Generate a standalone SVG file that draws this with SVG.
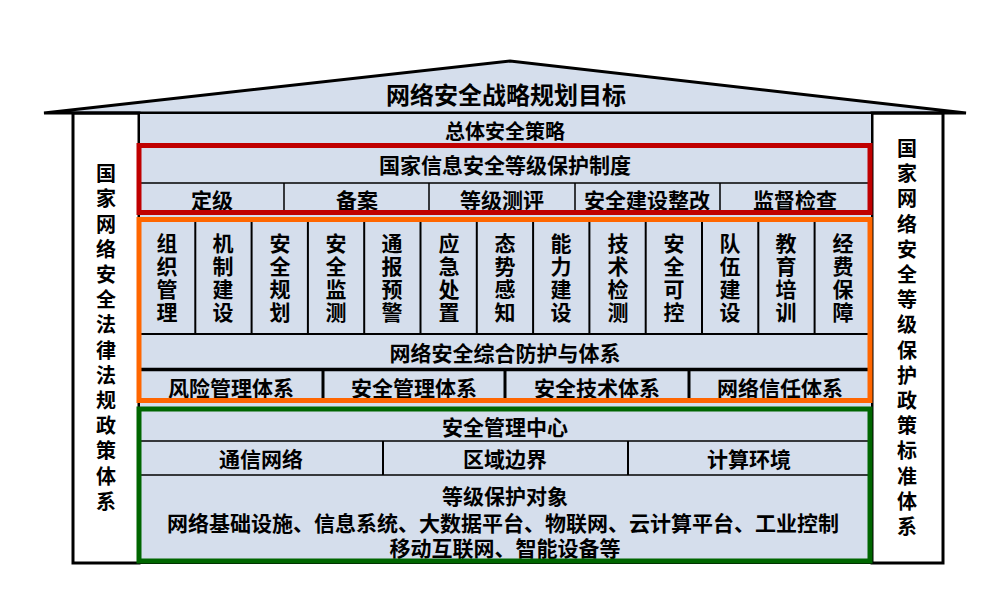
<svg xmlns="http://www.w3.org/2000/svg" width="1004" height="596" viewBox="0 0 1004 596">
<style>
text{font-family:"Noto Sans CJK SC","Noto Sans",sans-serif;font-weight:bold;fill:#000;text-anchor:middle;dominant-baseline:central}
.t20{font-size:20px}
.t21{font-size:21px}
.vp{font-size:20px;writing-mode:vertical-rl;letter-spacing:5.2px}
.vc{font-size:21px;writing-mode:vertical-rl;letter-spacing:2px}
.fill{fill:#D5DEEC}
.blk{fill:none;stroke:#000;stroke-width:3}
.thin{stroke:#000;stroke-width:1.5;fill:none}
.mid{stroke:#000;stroke-width:2;fill:none}
</style>
<rect width="1004" height="596" fill="#fff"/>
<g id="roof">
<polygon points="44,113 510,61 966,113" class="fill" stroke="#000" stroke-width="3" stroke-linejoin="miter"/>
<text x="506" y="93" style="font-size:24px">网络安全战略规划目标</text>
</g>
<g id="left-pillar">
<rect x="73" y="113" width="66" height="450" class="fill blk"/>
<text class="vp" x="106" y="340">国家网络安全法律法规政策体系</text>
</g>
<g id="right-pillar">
<rect x="872" y="113" width="71" height="450" class="fill blk"/>
<text class="vp" x="907" y="340">国家网络安全等级保护政策标准体系</text>
</g>
<g id="center">
<rect x="139" y="113" width="733" height="450" class="fill" stroke="#000" stroke-width="2"/>
<text class="t20" x="505" y="130">总体安全策略</text>
</g>
<g id="grading-system">
<line x1="139" y1="183" x2="870" y2="183" class="thin"/>
<path d="M284,183V212M429,183V212M575,183V212M720,183V212" class="thin"/>
<text class="t21" x="505" y="164">国家信息安全等级保护制度</text>
<text class="t21" x="212" y="199">定级</text>
<text class="t21" x="357" y="199">备案</text>
<text class="t21" x="502" y="199">等级测评</text>
<text class="t21" x="647" y="199">安全建设整改</text>
<text class="t21" x="795" y="199">监督检查</text>
<rect x="139" y="145.5" width="731" height="67" fill="none" stroke="#C00000" stroke-width="5"/>
</g>
<g id="protection-system">
<path d="M195.3,219V334M251.6,219V334M307.9,219V334M364.2,219V334M420.5,219V334M476.8,219V334M533.1,219V334M589.4,219V334M645.7,219V334M702,219V334M758.3,219V334M814.6,219V334" class="mid"/>
<line x1="139" y1="334" x2="870" y2="334" class="mid"/>
<line x1="139" y1="369.5" x2="870" y2="369.5" stroke="#000" stroke-width="3.5"/>
<path d="M323,369V400M505,369V400M689,369V400" stroke="#000" stroke-width="3"/>
<text class="vc" x="167" y="279">组织管理</text>
<text class="vc" x="223" y="279">机制建设</text>
<text class="vc" x="280" y="279">安全规划</text>
<text class="vc" x="336" y="279">安全监测</text>
<text class="vc" x="392" y="279">通报预警</text>
<text class="vc" x="449" y="279">应急处置</text>
<text class="vc" x="505" y="279">态势感知</text>
<text class="vc" x="561" y="279">能力建设</text>
<text class="vc" x="618" y="279">技术检测</text>
<text class="vc" x="674" y="279">安全可控</text>
<text class="vc" x="730" y="279">队伍建设</text>
<text class="vc" x="786" y="279">教育培训</text>
<text class="vc" x="843" y="279">经费保障</text>
<text class="t21" x="505" y="352">网络安全综合防护与体系</text>
<text class="t21" x="231" y="387">风险管理体系</text>
<text class="t21" x="414" y="387">安全管理体系</text>
<text class="t21" x="597" y="387">安全技术体系</text>
<text class="t21" x="780" y="387">网络信任体系</text>
<rect x="139" y="219.5" width="731" height="181" fill="none" stroke="#FF6600" stroke-width="5"/>
</g>
<g id="protected-objects">
<line x1="139" y1="441" x2="870" y2="441" class="thin"/>
<line x1="139" y1="475" x2="870" y2="475" class="thin"/>
<path d="M383,441V475M628,441V475" class="mid"/>
<text class="t21" x="505" y="426">安全管理中心</text>
<text class="t21" x="261" y="458">通信网络</text>
<text class="t21" x="505" y="458">区域边界</text>
<text class="t21" x="749" y="458">计算环境</text>
<text class="t21" x="505" y="495">等级保护对象</text>
<text class="t21" x="503" y="522">网络基础设施、信息系统、大数据平台、物联网、云计算平台、工业控制</text>
<text class="t21" x="505" y="547">移动互联网、智能设备等</text>
<rect x="139" y="409" width="731" height="152" fill="none" stroke="#006600" stroke-width="5"/>
</g>
<g id="connectors"></g>
</svg>
